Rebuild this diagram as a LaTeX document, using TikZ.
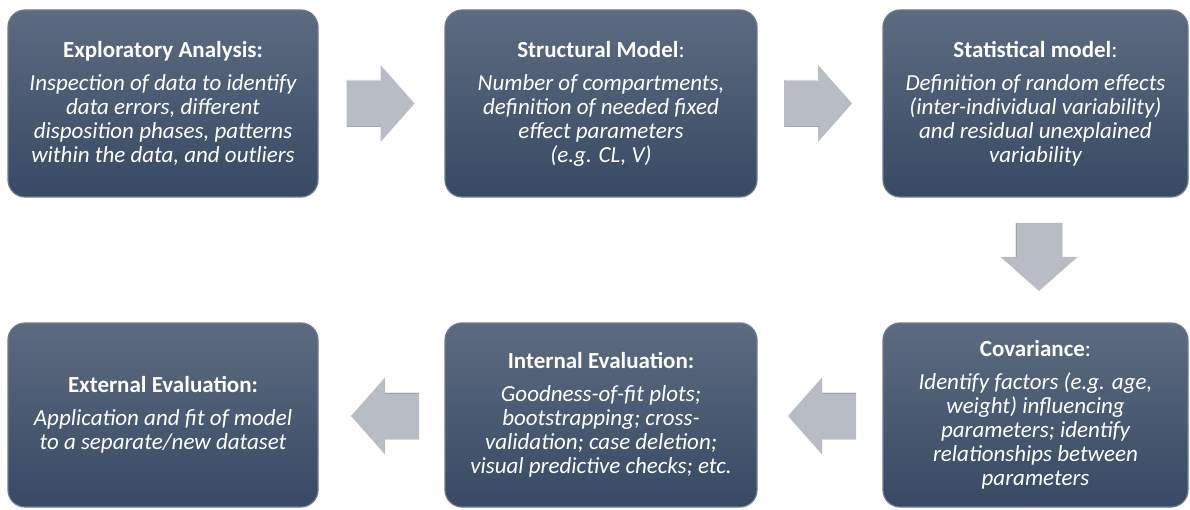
\documentclass[tikz,border=0pt]{standalone}
\usepackage{fontspec}
\setmainfont{Carlito}
\usetikzlibrary{calc}
\definecolor{boxtop}{RGB}{92,107,128}
\definecolor{boxbot}{RGB}{56,73,100}
\definecolor{boxedge}{RGB}{108,123,145}
\definecolor{arrowgray}{RGB}{184,188,196}
\definecolor{arrowlight}{RGB}{214,217,222}
\definecolor{arrowdark}{RGB}{160,164,172}
\begin{document}
\begin{tikzpicture}[x=1pt,y=1pt,
  stagebox/.style={rounded corners=17pt, draw=boxedge, line width=1.2pt,
    top color=boxtop, bottom color=boxbot, text=white, align=center,
    inner sep=0pt, font=\fontsize{23}{24}\selectfont},
  blockarrow/.pic={
    \fill[arrowgray] (-34,-23.5) -- (0,-23.5) -- (0,-38.5) -- (34,0) -- (0,38.5) -- (0,23.5) -- (-34,23.5) -- cycle;
    \draw[arrowlight, line width=0.8pt] (-33.5,23) -- (0.5,23);
    \draw[arrowdark, line width=0.8pt] (-33.5,-23) -- (0.5,-23);
  }]
\useasboundingbox (0,0) rectangle (1190,509);
% top row (tikz y = 509 - y_px)
\node[stagebox, minimum width=310pt, minimum height=187pt] (b1) at (163,405.5)
  {\textbf{Exploratory Analysis:}\\[9pt]
   \itshape Inspection of data to identify\\ \itshape data errors, different\\
   \itshape disposition phases, patterns\\ \itshape within the data, and outliers};
\node[stagebox, minimum width=312pt, minimum height=187pt] (b2) at (601,405.5)
  {\textbf{Structural Model}:\\[9pt]
   \itshape Number of compartments,\\ \itshape definition of needed fixed\\
   \itshape effect parameters\\ \itshape (e.g. CL, V)};
\node[stagebox, minimum width=305pt, minimum height=187pt] (b3) at (1035.5,405.5)
  {\textbf{Statistical model}:\\[9pt]
   \itshape Definition of random effects\\ \itshape (inter-individual variability)\\
   \itshape and residual unexplained\\ \itshape variability};
% bottom row
\node[stagebox, minimum width=310pt, minimum height=184pt] (b4) at (163,94)
  {\textbf{External Evaluation:}\\[9pt]
   \itshape Application and fit of model\\ \itshape to a separate/new dataset};
\node[stagebox, minimum width=312pt, minimum height=184pt] (b5) at (601,94)
  {\textbf{Internal Evaluation:}\\[9pt]
   \itshape Goodness-of-fit plots;\\ \itshape bootstrapping; cross-\\
   \itshape validation; case deletion;\\ \itshape visual predictive checks; etc.};
\node[stagebox, minimum width=305pt, minimum height=184pt] (b6) at (1035.5,94)
  {\textbf{Covariance}:\\[9pt]
   \itshape Identify factors (e.g. age,\\ \itshape weight) influencing\\
   \itshape parameters; identify\\ \itshape relationships between\\ \itshape parameters};
% block arrows
\pic at ($(b1.east)!0.5!(b2.west)+(-1,0)$) {blockarrow};
\pic at ($(b2.east)!0.5!(b3.west)+(-2,0)$) {blockarrow};
\pic[rotate=-90] at ($(b3.south)!0.5!(b6.north)+(3.5,3)$) {blockarrow};
\pic[rotate=180] at ($(b6.west)!0.5!(b5.east)+(2,-1)$) {blockarrow};
\pic[rotate=180] at ($(b5.west)!0.5!(b4.east)+(3.5,-1)$) {blockarrow};
\end{tikzpicture}
\end{document}
